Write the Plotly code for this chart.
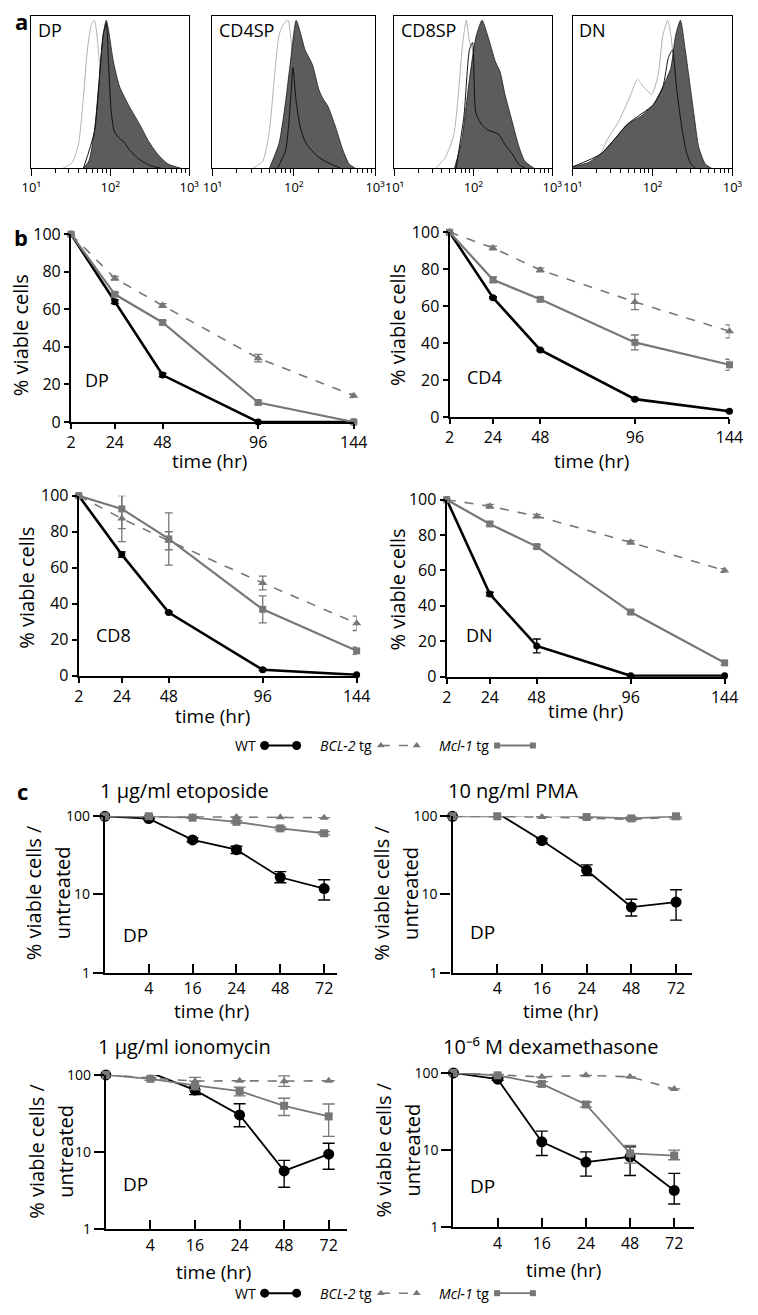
import plotly.graph_objects as go

W, H = 758, 1315
FONT = "Open Sans"
GREY = "#777777"

# ---------------- Panel a: flow histograms (log10 fluorescence, normalised count) ----------------
a_labels = ["DP", "CD4SP", "CD8SP", "DN"]
a_tickvals = [10, 100, 1000]
a_ticktext = ["10¹", "10²", "10³"]
a_minor = [20, 30, 40, 50, 60, 70, 80, 90, 200, 300, 400, 500, 600, 700, 800, 900]

dp_ctrl_x = [1.40, 1.52, 1.60, 1.66, 1.71, 1.76, 1.80, 1.85, 1.90, 1.96, 2.04, 2.16]
dp_ctrl_h = [0.0, 0.04, 0.17, 0.48, 0.80, 0.97, 1.0, 0.80, 0.42, 0.15, 0.04, 0.0]
dp_tg_x = [1.66, 1.73, 1.80, 1.86, 1.91, 1.95, 1.98, 2.04, 2.12, 2.24, 2.37, 2.49, 2.61, 2.73, 2.90]
dp_tg_h = [0.0, 0.05, 0.25, 0.60, 0.90, 1.0, 0.93, 0.72, 0.55, 0.42, 0.30, 0.18, 0.09, 0.03, 0.0]
dp_wt_x = [1.66, 1.80, 1.91, 1.95, 1.98, 2.01, 2.05, 2.12, 2.17, 2.25, 2.37, 2.50, 2.65]
dp_wt_h = [0.0, 0.25, 0.90, 0.98, 0.70, 0.40, 0.25, 0.20, 0.18, 0.12, 0.06, 0.02, 0.0]

cd4_ctrl_x = [1.50, 1.62, 1.70, 1.76, 1.82, 1.88, 1.93, 1.97, 2.02, 2.08, 2.16]
cd4_ctrl_h = [0.0, 0.05, 0.25, 0.60, 0.90, 0.98, 1.0, 0.85, 0.45, 0.15, 0.0]
cd4_tg_x = [1.70, 1.82, 1.90, 1.96, 2.03, 2.08, 2.14, 2.23, 2.31, 2.36, 2.42, 2.52, 2.60, 2.68, 2.76]
cd4_tg_h = [0.0, 0.17, 0.45, 0.72, 1.0, 0.92, 0.80, 0.70, 0.53, 0.47, 0.42, 0.27, 0.13, 0.03, 0.0]
cd4_wt_x = [1.80, 1.90, 1.96, 1.99, 2.03, 2.08, 2.14, 2.22, 2.32, 2.45, 2.58]
cd4_wt_h = [0.0, 0.12, 0.45, 0.68, 0.45, 0.28, 0.18, 0.12, 0.07, 0.03, 0.0]

cd8_ctrl_x = [1.52, 1.64, 1.75, 1.81, 1.86, 1.91, 1.95, 1.99, 2.05, 2.12, 2.22]
cd8_ctrl_h = [0.0, 0.07, 0.22, 0.50, 0.82, 1.0, 0.86, 0.80, 0.40, 0.10, 0.0]
cd8_tg_x = [1.76, 1.85, 1.95, 2.03, 2.11, 2.18, 2.28, 2.34, 2.40, 2.49, 2.57, 2.65, 2.77]
cd8_tg_h = [0.0, 0.18, 0.60, 0.88, 1.0, 0.90, 0.72, 0.65, 0.50, 0.32, 0.16, 0.05, 0.0]
cd8_wt_x = [1.78, 1.88, 1.95, 1.99, 2.03, 2.10, 2.18, 2.32, 2.40, 2.49, 2.57, 2.66]
cd8_wt_h = [0.0, 0.35, 0.80, 0.85, 0.38, 0.30, 0.26, 0.23, 0.16, 0.10, 0.03, 0.0]

dn_ctrl_x = [1.00, 1.16, 1.32, 1.44, 1.57, 1.73, 1.81, 1.89, 1.99, 2.07, 2.13, 2.19, 2.23, 2.27, 2.33, 2.41, 2.49]
dn_ctrl_h = [0.01, 0.02, 0.07, 0.20, 0.31, 0.50, 0.60, 0.55, 0.50, 0.63, 0.90, 1.0, 0.90, 0.70, 0.35, 0.10, 0.0]
dn_tg_x = [1.00, 1.20, 1.36, 1.53, 1.69, 1.85, 2.01, 2.13, 2.23, 2.29, 2.35, 2.41, 2.52, 2.58, 2.66, 2.74]
dn_tg_h = [0.01, 0.04, 0.10, 0.20, 0.30, 0.35, 0.43, 0.55, 0.68, 0.90, 1.0, 0.80, 0.36, 0.14, 0.03, 0.0]
dn_wt_x = [1.00, 1.36, 1.69, 2.01, 2.13, 2.20, 2.25, 2.30, 2.36, 2.42, 2.48, 2.54]
dn_wt_h = [0.01, 0.10, 0.30, 0.43, 0.55, 0.75, 0.80, 0.55, 0.30, 0.12, 0.03, 0.0]

# ---------------- Panel b: % viable cells vs time ----------------
b_times = [2, 24, 48, 96, 144]
b_yticks = [0, 20, 40, 60, 80, 100]
b_labels = ["DP", "CD4", "CD8", "DN"]

b_dp_wt = [100, 64, 25, 0, 0]
b_dp_wt_err = [0, 1, 1, 0, 0]
b_dp_bcl2 = [100, 76.5, 62, 34, 14]
b_dp_bcl2_err = [0, 1, 1, 2, 1]
b_dp_mcl1 = [100, 68, 53, 10.4, 0]
b_dp_mcl1_err = [0, 1, 1, 1, 0]

b_cd4_wt = [100, 64.6, 36.3, 9.7, 3.2]
b_cd4_wt_err = [0, 0.5, 0.5, 0.5, 0.5]
b_cd4_bcl2 = [100, 91.5, 79.6, 62.3, 46.4]
b_cd4_bcl2_err = [0, 1, 1, 4.2, 3.5]
b_cd4_mcl1 = [100, 74.3, 63.7, 40.4, 28.3]
b_cd4_mcl1_err = [0, 1.5, 1, 4, 3]

b_cd8_wt = [100, 67.3, 35.1, 3.3, 0.5]
b_cd8_wt_err = [0, 1.5, 0.5, 0.5, 0.5]
b_cd8_bcl2 = [100, 87.3, 75, 51.5, 29.1]
b_cd8_bcl2_err = [0, 12.8, 5, 3.8, 4]
b_cd8_mcl1 = [100, 92.7, 76, 36.9, 13.8]
b_cd8_mcl1_err = [0, 11, 14.5, 7.5, 2]

b_dn_wt = [100, 46.7, 17.4, 0.5, 0.5]
b_dn_wt_err = [0, 1, 3.9, 0, 0]
b_dn_bcl2 = [100, 96.3, 90.7, 75.9, 60]
b_dn_bcl2_err = [0, 1, 1, 1, 1]
b_dn_mcl1 = [100, 86.3, 73.5, 36.5, 7.8]
b_dn_mcl1_err = [0, 1, 1, 1, 1]

# ---------------- Panel c: % viable cells / untreated (log) ----------------
c_times = [0, 4, 16, 24, 48, 72]
c_tick_labels = ["4", "16", "24", "48", "72"]
c_titles = ["1 µg/ml etoposide", "10 ng/ml PMA", "1 µg/ml ionomycin", "10⁻⁶ M dexamethasone"]
c_yticks = [1, 10, 100]

c_eto_wt = [100, 93.5, 49.9, 37.4, 16.6, 11.9]
c_eto_wt_up = [0, 2, 3, 4, 3, 3.5]
c_eto_wt_dn = [0, 2, 3, 4, 2.5, 3.4]
c_eto_bcl2 = [100, 100, 98, 98, 97, 96]
c_eto_bcl2_up = [0, 0, 0, 0, 0, 0]
c_eto_bcl2_dn = [0, 0, 0, 0, 0, 0]
c_eto_mcl1 = [100, 100, 96, 85, 70, 60.7]
c_eto_mcl1_up = [0, 0, 2, 3, 3, 3]
c_eto_mcl1_dn = [0, 0, 2, 3, 3, 3]

c_pma_wt = [100, 110, 49, 20.4, 6.9, 8.0]
c_pma_wt_up = [0, 3, 3, 3.5, 1.8, 3.5]
c_pma_wt_dn = [0, 3, 3, 3, 1.6, 3.3]
c_pma_bcl2 = [100, 100, 98, 95, 91, 98]
c_pma_bcl2_up = [0, 0, 0, 0, 0, 0]
c_pma_bcl2_dn = [0, 0, 0, 0, 0, 0]
c_pma_mcl1 = [100, 100, 104, 98, 94, 100]
c_pma_mcl1_up = [0, 0, 4, 4, 4, 8]
c_pma_mcl1_dn = [0, 0, 4, 4, 4, 8]

c_iono_wt = [100, 107, 63.5, 30.3, 5.7, 9.4]
c_iono_wt_up = [0, 4, 8, 12, 2.1, 3.6]
c_iono_wt_dn = [0, 4, 8, 9, 2.2, 3.4]
c_iono_bcl2 = [100, 91, 83, 84, 83, 84]
c_iono_bcl2_up = [0, 0, 10, 0, 14, 0]
c_iono_bcl2_dn = [0, 0, 10, 0, 12, 0]
c_iono_mcl1 = [100, 89, 73, 61.6, 39.8, 29]
c_iono_mcl1_up = [0, 4, 10, 8, 10, 13]
c_iono_mcl1_dn = [0, 4, 9, 8, 10, 13]

c_dexa_wt = [100, 83, 12.8, 7.0, 8.2, 3.0]
c_dexa_wt_up = [0, 3, 4.8, 2.5, 2.8, 2.0]
c_dexa_wt_dn = [0, 3, 4.3, 2.4, 3.5, 1.0]
c_dexa_bcl2 = [100, 95, 89, 93, 89, 62]
c_dexa_bcl2_up = [0, 0, 0, 0, 0, 0]
c_dexa_bcl2_dn = [0, 0, 0, 0, 0, 0]
c_dexa_mcl1 = [100, 93, 72, 39, 9.1, 8.5]
c_dexa_mcl1_up = [0, 3, 5, 3, 2.4, 1.5]
c_dexa_mcl1_dn = [0, 3, 5, 3, 2.3, 1.0]

legend_names = ["WT", "<i>BCL-2</i> tg", "<i>Mcl-1</i> tg"]

# ---------------- helpers ----------------
fig = go.Figure()
layout = dict(width=W, height=H, margin=dict(l=0, r=0, t=0, b=0),
              paper_bgcolor="white", plot_bgcolor="white", showlegend=False,
              font=dict(family=FONT, color="black", size=15))
annotations = []


def names(n):
    if n == 1:
        return "xaxis", "yaxis", "x", "y"
    return f"xaxis{n}", f"yaxis{n}", f"x{n}", f"y{n}"


def xdom(a, b):
    return [a / W, b / W]


def ydom(top, bot):
    return [1 - bot / H, 1 - top / H]


def ann(text, x, y, size=17, xanchor="center", yanchor="middle", angle=0, bold=False):
    if bold:
        text = f"<b>{text}</b>"
    annotations.append(dict(text=text, x=x / W, y=1 - y / H, xref="paper", yref="paper",
                            xanchor=xanchor, yanchor=yanchor, showarrow=False,
                            textangle=angle, font=dict(size=size, family=FONT, color="black")))


# ---------------- panel a ----------------
a_geo = [(22, 185), (209, 377), (397, 560), (581, 746)]
a_data = [
    (dp_ctrl_x, dp_ctrl_h, dp_tg_x, dp_tg_h, dp_wt_x, dp_wt_h),
    (cd4_ctrl_x, cd4_ctrl_h, cd4_tg_x, cd4_tg_h, cd4_wt_x, cd4_wt_h),
    (cd8_ctrl_x, cd8_ctrl_h, cd8_tg_x, cd8_tg_h, cd8_wt_x, cd8_wt_h),
    (dn_ctrl_x, dn_ctrl_h, dn_tg_x, dn_tg_h, dn_wt_x, dn_wt_h),
]
for i, ((x0, x1), d, lab) in enumerate(zip(a_geo, a_data, a_labels)):
    n = i + 1
    xa, ya, xr, yr = names(n)
    layout[xa] = dict(domain=xdom(x0, x1), anchor=yr, type="log", range=[1, 3],
                      showline=True, mirror=True, linecolor="black", linewidth=1,
                      ticks="outside", ticklen=7, tickwidth=1, tickcolor="black",
                      tickvals=a_tickvals, ticktext=a_ticktext, tickfont=dict(size=13),
                      minor=dict(tickvals=a_minor, ticks="outside", ticklen=4, tickcolor="black", showgrid=False),
                      showgrid=False, zeroline=False)
    layout[ya] = dict(domain=ydom(5, 160), anchor=xr, range=[0, 1.03], showline=True, mirror=True,
                      linecolor="black", linewidth=1, showticklabels=False, ticks="",
                      showgrid=False, zeroline=False)
    cx, ch, tx, th, wx, wh = d
    fig.add_trace(go.Scatter(x=[10 ** v for v in cx], y=ch, xaxis=xr, yaxis=yr, mode="lines",
                             line=dict(color="#b0b0b0", width=1, shape="spline", smoothing=0.6),
                             hoverinfo="skip"))
    fig.add_trace(go.Scatter(x=[10 ** v for v in tx], y=th, xaxis=xr, yaxis=yr, mode="lines",
                             line=dict(color="#1a1a1a", width=0.8, shape="spline", smoothing=0.6),
                             fill="tozeroy", fillcolor="#5c5c5c", hoverinfo="skip"))
    fig.add_trace(go.Scatter(x=[10 ** v for v in wx], y=wh, xaxis=xr, yaxis=yr, mode="lines",
                             line=dict(color="#111111", width=1, shape="spline", smoothing=0.6),
                             hoverinfo="skip"))
    ann(lab, x0 + 5, 19, size=18, xanchor="left")

ann("a", 3, 10, size=22, xanchor="left", bold=True)

# ---------------- panel b ----------------
b_geo = [(63, 355, 227, 418), (454, 743, 225, 413), (71, 358, 493, 676), (451, 738, 497, 677)]
b_data = [
    (b_dp_wt, b_dp_wt_err, b_dp_bcl2, b_dp_bcl2_err, b_dp_mcl1, b_dp_mcl1_err),
    (b_cd4_wt, b_cd4_wt_err, b_cd4_bcl2, b_cd4_bcl2_err, b_cd4_mcl1, b_cd4_mcl1_err),
    (b_cd8_wt, b_cd8_wt_err, b_cd8_bcl2, b_cd8_bcl2_err, b_cd8_mcl1, b_cd8_mcl1_err),
    (b_dn_wt, b_dn_wt_err, b_dn_bcl2, b_dn_bcl2_err, b_dn_mcl1, b_dn_mcl1_err),
]
b_ytitle_pos = [(11, 330), (400, 319), (17, 586), (400, 588)]
b_label_pos = [(75, 375), (470, 372), (87, 635), (469, 635)]
b_xtitle_pos = [(206, 458), (600, 458), (209, 717), (594, 712)]
for i, ((x0, x1, yt, yb), d) in enumerate(zip(b_geo, b_data)):
    n = 5 + i
    xa, ya, xr, yr = names(n)
    layout[xa] = dict(domain=xdom(x0, x1), anchor=yr, range=[b_times[0], b_times[-1]],
                      showline=True, linecolor="black", linewidth=2.2, ticks="outside", ticklen=5,
                      tickwidth=1.5, tickcolor="black", tickvals=b_times, tickfont=dict(size=16),
                      showgrid=False, zeroline=False)
    layout[ya] = dict(domain=ydom(yt, yb), anchor=xr, range=[0, 100],
                      showline=True, linecolor="black", linewidth=2.2, ticks="outside", ticklen=5,
                      tickwidth=1.5, tickcolor="black", tickvals=b_yticks, tickfont=dict(size=16),
                      showgrid=False, zeroline=False)
    wt, wte, bc, bce, mc, mce = d
    fig.add_trace(go.Scatter(x=b_times, y=wt, xaxis=xr, yaxis=yr, mode="lines+markers",
                             line=dict(color="black", width=2.6),
                             marker=dict(symbol="circle", size=7, color="black"),
                             error_y=dict(type="data", array=wte, color="black", thickness=1.3, width=4),
                             cliponaxis=False, hoverinfo="skip"))
    fig.add_trace(go.Scatter(x=b_times, y=bc, xaxis=xr, yaxis=yr, mode="lines+markers",
                             line=dict(color=GREY, width=1.6, dash="dash"),
                             marker=dict(symbol="triangle-up", size=8, color=GREY),
                             error_y=dict(type="data", array=bce, color=GREY, thickness=1.3, width=4),
                             cliponaxis=False, hoverinfo="skip"))
    fig.add_trace(go.Scatter(x=b_times, y=mc, xaxis=xr, yaxis=yr, mode="lines+markers",
                             line=dict(color=GREY, width=2.2),
                             marker=dict(symbol="square", size=7, color=GREY),
                             error_y=dict(type="data", array=mce, color=GREY, thickness=1.3, width=4),
                             cliponaxis=False, hoverinfo="skip"))
    ann("% viable cells", *b_ytitle_pos[i], size=20, angle=-90)
    ann(b_labels[i], *b_label_pos[i], size=18, xanchor="left")
    ann("time (hr)", *b_xtitle_pos[i], size=19)

ann("b", 2, 230, size=22, xanchor="left", bold=True)

# ---------------- panel c ----------------
c_geo = [(98, 338, 819, 978, 5.3), (457, 704, 819, 978, 5.35),
         (99, 348, 1082, 1239, 5.41), (458, 706, 1080, 1237, 5.44)]
c_data = [
    (c_eto_wt, c_eto_wt_up, c_eto_wt_dn, c_eto_bcl2, c_eto_bcl2_up, c_eto_bcl2_dn, c_eto_mcl1, c_eto_mcl1_up, c_eto_mcl1_dn),
    (c_pma_wt, c_pma_wt_up, c_pma_wt_dn, c_pma_bcl2, c_pma_bcl2_up, c_pma_bcl2_dn, c_pma_mcl1, c_pma_mcl1_up, c_pma_mcl1_dn),
    (c_iono_wt, c_iono_wt_up, c_iono_wt_dn, c_iono_bcl2, c_iono_bcl2_up, c_iono_bcl2_dn, c_iono_mcl1, c_iono_mcl1_up, c_iono_mcl1_dn),
    (c_dexa_wt, c_dexa_wt_up, c_dexa_wt_dn, c_dexa_bcl2, c_dexa_bcl2_up, c_dexa_bcl2_dn, c_dexa_mcl1, c_dexa_mcl1_up, c_dexa_mcl1_dn),
]
c_title_pos = [(180, 793), (519, 793), (180, 1053), (559, 1053)]
c_ytitle_pos = [((25, 897), (55, 897)), ((384, 897), (414, 897)),
                ((27, 1160), (57, 1160)), ((386, 1158), (416, 1158))]
c_label_pos = [(115, 940), (473, 937), (115, 1193), (473, 1195)]
c_xtitle_pos = [(208, 1017), (568, 1017), (210, 1282), (572, 1280)]
c_idx = list(range(len(c_times)))
for i, ((x0, x1, yt, yb, xend), d) in enumerate(zip(c_geo, c_data)):
    n = 9 + i
    xa, ya, xr, yr = names(n)
    layout[xa] = dict(domain=xdom(x0, x1), anchor=yr, range=[0, xend],
                      showline=True, linecolor="black", linewidth=2.2, ticks="inside", ticklen=9,
                      tickwidth=1.5, tickcolor="black", tickvals=c_idx[1:], ticktext=c_tick_labels,
                      tickfont=dict(size=16), showgrid=False, zeroline=False)
    layout[ya] = dict(domain=ydom(yt, yb), anchor=xr, type="log", range=[0, 2],
                      showline=True, linecolor="black", linewidth=2.2, ticks="outside", ticklen=10,
                      tickwidth=1.5, tickcolor="black", tickvals=c_yticks,
                      ticktext=[str(v) for v in c_yticks], tickfont=dict(size=14),
                      showgrid=False, zeroline=False)
    wt, wu, wd, bc, bu, bd, mc, mu, md = d
    fig.add_trace(go.Scatter(x=c_idx, y=wt, xaxis=xr, yaxis=yr, mode="lines+markers",
                             line=dict(color="black", width=1.8),
                             marker=dict(symbol="circle", size=11, color="black"),
                             error_y=dict(type="data", symmetric=False, array=wu, arrayminus=wd,
                                          color="black", thickness=1.4, width=6),
                             cliponaxis=False, hoverinfo="skip"))
    fig.add_trace(go.Scatter(x=c_idx, y=bc, xaxis=xr, yaxis=yr, mode="lines+markers",
                             line=dict(color=GREY, width=1.6, dash="dash"),
                             marker=dict(symbol="triangle-up", size=8, color=GREY),
                             error_y=dict(type="data", symmetric=False, array=bu, arrayminus=bd,
                                          color=GREY, thickness=1.3, width=6),
                             cliponaxis=False, hoverinfo="skip"))
    fig.add_trace(go.Scatter(x=c_idx, y=mc, xaxis=xr, yaxis=yr, mode="lines+markers",
                             line=dict(color=GREY, width=1.8),
                             marker=dict(symbol="square", size=8, color=GREY),
                             error_y=dict(type="data", symmetric=False, array=mu, arrayminus=md,
                                          color=GREY, thickness=1.3, width=6),
                             cliponaxis=False, hoverinfo="skip"))
    ann(c_titles[i], *c_title_pos[i], size=20)
    (l1x, l1y), (l2x, l2y) = c_ytitle_pos[i]
    ann("% viable cells /", l1x, l1y, size=20, angle=-90)
    ann("untreated", l2x, l2y, size=20, angle=-90)
    ann("DP", *c_label_pos[i], size=19, xanchor="left")
    ann("time (hr)", *c_xtitle_pos[i], size=19)

ann("c", 5, 793, size=22, xanchor="left", bold=True)

# ---------------- legends (two rows) ----------------
legend_rows = [747, 1304]
legend_text_right = [256, 376, 497]
legend_sample = [(263, 296), (383, 420), (503, 540)]
legend_styles = [
    dict(line=dict(color="black", width=2), marker=dict(symbol="circle", size=9, color="black")),
    dict(line=dict(color=GREY, width=1.4, dash="dash"), marker=dict(symbol="triangle-up", size=7, color=GREY)),
    dict(line=dict(color=GREY, width=1.8), marker=dict(symbol="square", size=6, color=GREY)),
]
for j, yrow in enumerate(legend_rows):
    n = 13 + j
    xa, ya, xr, yr = names(n)
    layout[xa] = dict(domain=[0, 1], anchor=yr, range=[0, W], visible=False)
    layout[ya] = dict(domain=ydom(yrow - 8, yrow + 8), anchor=xr, range=[0, 1], visible=False)
    for k in range(3):
        fig.add_trace(go.Scatter(x=list(legend_sample[k]), y=[0.5, 0.5], xaxis=xr, yaxis=yr,
                                 mode="lines+markers", cliponaxis=False, hoverinfo="skip",
                                 **legend_styles[k]))
        ann(legend_names[k], legend_text_right[k], yrow, size=14, xanchor="right")

layout["annotations"] = annotations
fig.update_layout(**layout)
fig.write_html("out.html", config={"displayModeBar": False},
               post_script="document.body.style.margin='0';document.body.style.overflow='hidden';")
